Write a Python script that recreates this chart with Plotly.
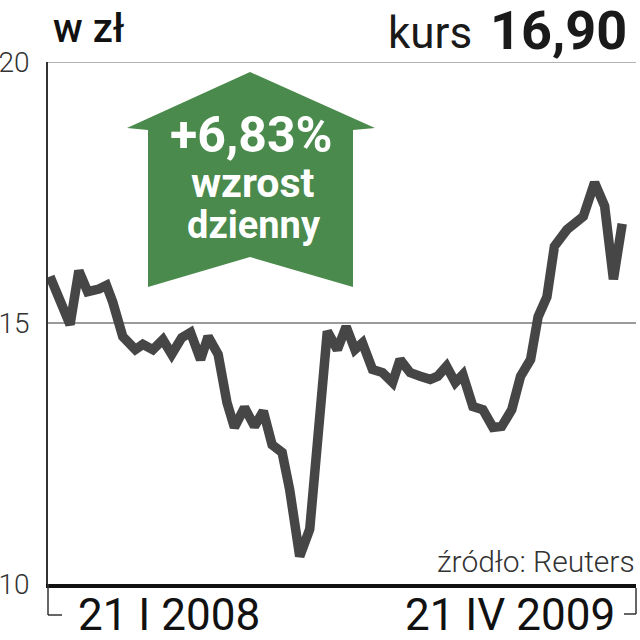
import plotly.graph_objects as go

# ---- data ----
dates = [
    "2008-01-21", "2008-02-06", "2008-02-13", "2008-02-20", "2008-02-29", "2008-03-06",
    "2008-03-11", "2008-03-19", "2008-03-29", "2008-04-04", "2008-04-12", "2008-04-20",
    "2008-04-27", "2008-05-05", "2008-05-12", "2008-05-20", "2008-05-26", "2008-06-03",
    "2008-06-10", "2008-06-16", "2008-06-24", "2008-07-02", "2008-07-09", "2008-07-16",
    "2008-07-24", "2008-07-30", "2008-08-07", "2008-08-15", "2008-08-29", "2008-09-06",
    "2008-09-13", "2008-09-20", "2008-09-26", "2008-10-04", "2008-10-12", "2008-10-20",
    "2008-10-26", "2008-11-03", "2008-11-11", "2008-11-19", "2008-11-25", "2008-12-02",
    "2008-12-09", "2008-12-15", "2008-12-23", "2008-12-31", "2009-01-08", "2009-01-15",
    "2009-01-23", "2009-01-30", "2009-02-07", "2009-02-13", "2009-02-20", "2009-02-26",
    "2009-03-08", "2009-03-21", "2009-03-30", "2009-04-07", "2009-04-14", "2009-04-21",
]
prices = [
    15.89, 14.97, 16.00, 15.60, 15.65, 15.72,
    15.40, 14.74, 14.49, 14.59, 14.49, 14.68,
    14.40, 14.72, 14.82, 14.30, 14.74, 14.40,
    13.48, 13.00, 13.38, 13.02, 13.31, 12.67,
    12.52, 11.81, 10.53, 11.05, 14.84, 14.49,
    14.93, 14.49, 14.62, 14.11, 14.05, 13.86,
    14.30, 14.05, 13.98, 13.92, 13.98, 14.17,
    13.86, 14.01, 13.40, 13.34, 13.00, 13.02,
    13.34, 13.98, 14.30, 15.12, 15.50, 16.47,
    16.79, 17.04, 17.69, 17.24, 15.84, 16.90,
]
y_ticks = [10, 15, 20]
y_tick_labels = ["10", "15", "20"]
unit_label = "w zł"
price_word = "kurs"
price_label = "16,90"
change_label = "+6,83%"
change_words = ["wzrost", "dzienny"]
start_label = "21 I 2008"
end_label = "21 IV 2009"
source_label = "źródło: Reuters"

# ---- layout geometry (pixels in a 640x640 canvas) ----
W = H = 640
L, R, T, B = 48, 4, 62, 56
PW, PH = W - L - R, H - T - B


def px(x):
    return (x - L) / PW


def py(y):
    return (H - B - y) / PH


GREEN = "#4a8a4c"
LINE = "#464646"
FONT = "Roboto"

fig = go.Figure()
fig.add_trace(go.Scatter(
    x=dates, y=prices, mode="lines",
    line=dict(color=LINE, width=9.5),
    hoverinfo="skip", showlegend=False,
))

# top grid line (plotly omits the gridline on the range edge)
shapes = [dict(type="line", xref="paper", yref="y", x0=0, x1=1, y0=y_ticks[-1], y1=y_ticks[-1],
               line=dict(color="#9a9a9a", width=1.5), layer="below")]

# green arrow
arrow_pts = [(250, 72), (375, 128), (353, 130), (353, 287), (250, 257),
             (148, 287), (148, 130), (127, 128)]
path = "M " + " L ".join(f"{px(x):.5f},{py(y):.5f}" for x, y in arrow_pts) + " Z"
shapes.append(dict(type="path", xref="paper", yref="paper", path=path,
                   fillcolor=GREEN, line=dict(width=0), layer="above"))

# brackets under axis
br = dict(color="#333333", width=1.5)
shapes += [
    dict(type="line", xref="paper", yref="paper", x0=px(48), x1=px(48), y0=py(584), y1=py(615), line=br),
    dict(type="line", xref="paper", yref="paper", x0=px(48), x1=px(62), y0=py(615), y1=py(615), line=br),
    dict(type="line", xref="paper", yref="paper", x0=px(636), x1=px(636), y0=py(588), y1=py(614), line=br),
    dict(type="line", xref="paper", yref="paper", x0=px(624), x1=px(636), y0=py(614), y1=py(614), line=br),
]

ann = []


def add_text(text, x, y, size, xanchor="center", yanchor="middle", color="#111111",
             weight="normal", family=FONT):
    ann.append(dict(text=text, x=px(x), y=py(y), xref="paper", yref="paper",
                    xanchor=xanchor, yanchor=yanchor, showarrow=False,
                    font=dict(family=family, size=size, color=color, weight=weight)))


add_text(unit_label, 51, 29, 40, xanchor="left", weight=500)
add_text(price_word, 474, 33, 44, xanchor="right", color="#1a1a1a")
add_text(price_label, 629, 31, 54, xanchor="right", weight="bold", color="#1a1a1a")
add_text(change_label, 251, 135, 50, color="white", weight="bold")
add_text(change_words[0], 253, 183, 41, color="white", weight="bold")
add_text(change_words[1], 254, 225, 38, color="white", weight="bold")
add_text(start_label, 76, 615, 44, xanchor="left", color="#111111")
add_text(end_label, 617, 615, 44, xanchor="right", color="#111111")
add_text(source_label, 637, 561, 30, xanchor="right", color="#333333", weight=300)

fig.update_layout(
    width=W, height=H,
    margin=dict(l=L, r=R, t=T, b=B, pad=0, autoexpand=False),
    paper_bgcolor="white", plot_bgcolor="white",
    shapes=shapes, annotations=ann,
    showlegend=False,
    xaxis=dict(type="date", range=["2008-01-19 10:00", "2009-05-02"], automargin=False,
               showticklabels=False, showgrid=False, zeroline=False,
               showline=True, linecolor="#111111", linewidth=3.5, ticks=""),
    yaxis=dict(range=[10, 20], tickvals=y_ticks, ticktext=y_tick_labels, automargin=False,
               showgrid=True, gridcolor="#9a9a9a", gridwidth=1.5, zeroline=False,
               showline=True, linecolor="#333333", linewidth=1.5, ticks="",
               ticklabelstandoff=11,
               tickfont=dict(family=FONT, size=28, color="#333333", weight=300)),
)

fig.write_html("out.html", config={"displayModeBar": False},
               post_script="document.body.style.margin='0';")
